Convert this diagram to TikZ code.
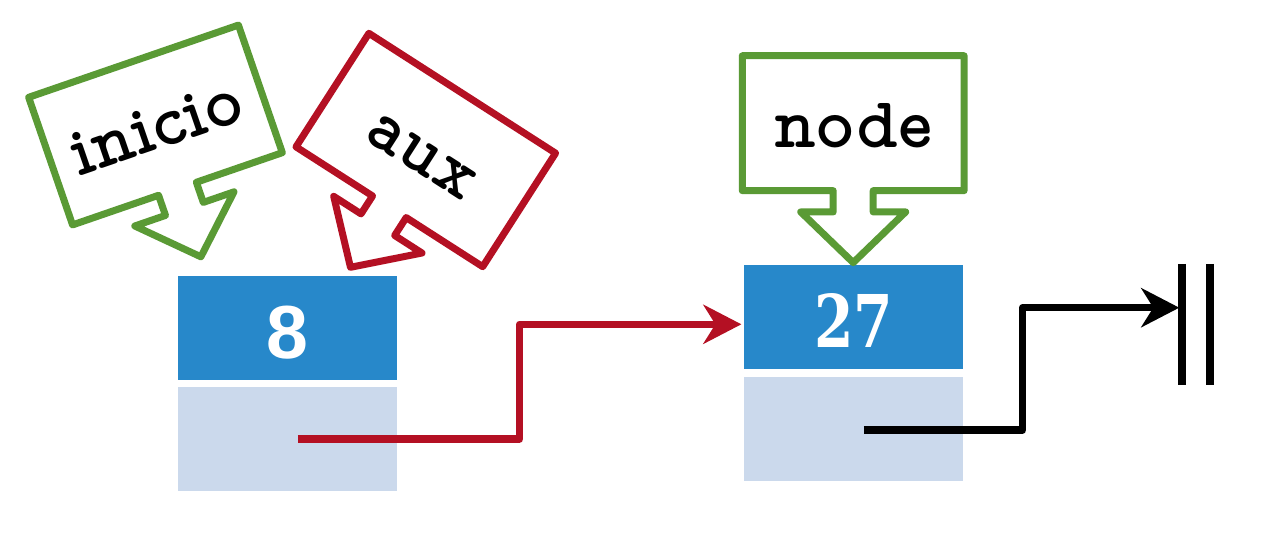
\documentclass[tikz,border=0pt]{standalone}
\usepackage{fontspec}
\usepackage{graphicx}
\usetikzlibrary{arrows.meta}
\newfontfamily\eightfont{Liberation Sans}
\newfontfamily\slabfont{DejaVu Serif}
\definecolor{cgreen}{RGB}{90,154,53}
\definecolor{cred}{RGB}{180,16,35}
\definecolor{cblue}{RGB}{39,136,202}
\definecolor{clight}{RGB}{203,217,236}
\tikzset{
  calloutline/.style={line width=0.07cm, line join=round, fill=white},
  calltext/.style={font=\fontfamily{lmvtt}\bfseries\fontsize{20.5}{25}\selectfont, inner sep=0pt, text=black},
  databox/.style={fill=cblue, draw=none, minimum width=2.19cm, minimum height=1.04cm, inner sep=0pt},
  linkbox/.style={fill=clight, draw=none, minimum width=2.19cm, minimum height=1.04cm, inner sep=0pt},
  link/.style={line width=0.073cm, line join=round, -{Stealth[length=0.38cm,width=0.39cm,inset=0.12cm]}},
  nullbar/.style={line width=0.073cm},
  numtext/.style={text=white, inner sep=0pt, anchor=base}
}
\newcommand{\mycallout}[6]{%
  \begin{scope}[shift={(#1,#2)}, rotate=#3, x=0.01cm, y=0.01cm]
    \draw[calloutline, draw=#4] (-111,67.5) -- (111,67.5) -- (111,-67.5) -- (20,-67.5) -- (20,-88.8)
      -- (52.5,-88.8) -- (0,-139.5) -- (-52.5,-88.8) -- (-20,-88.8) -- (-20,-67.5) -- (-111,-67.5) -- cycle;
    \node[calltext, rotate=#3, anchor=base] (#5) at (0,-24) {#6};
  \end{scope}}
\begin{document}
\begin{tikzpicture}
\useasboundingbox (0,0) rectangle (12.86,-5.34);
% boxes
\node[databox] (d1) at (2.875,-3.28) {};
\node[linkbox] (l1) at (2.875,-4.39) {};
\node[databox] (d2) at (8.535,-3.173) {};
\node[linkbox] (l2) at (8.535,-4.29) {};
\node[numtext, font=\eightfont\bfseries\fontsize{21.4}{26}\selectfont] (v1) at (2.875,-3.585) {8};
\node[numtext, font=\slabfont\bfseries\fontsize{20.7}{26}\selectfont] (v2) at (8.537,-3.475) {\scalebox{0.78}[1]{27}};
% callouts
\mycallout{1.555}{-1.25}{19}{cgreen}{inicio}{inicio}
\mycallout{4.258}{-1.50}{-32.7}{cred}{aux}{aux}
\mycallout{8.532}{-1.232}{0}{cgreen}{nodelbl}{node}
% null terminator
\coordinate (n1a) at (11.82,-2.64);
\coordinate (n1b) at (11.82,-3.85);
\coordinate (n2a) at (12.10,-2.64);
\coordinate (n2b) at (12.10,-3.85);
\draw[nullbar] (n1a) -- (n1b);
\draw[nullbar] (n2a) -- (n2b);
% links
\coordinate (s1) at (2.98,-4.39);
\coordinate (t1) at (7.414,-3.243);
\coordinate (s2) at (8.64,-4.30);
\coordinate (t2) at (11.793,-3.077);
\draw[link, draw=cred] (s1) -- (5.196,-4.39) |- (t1);
\draw[link, draw=black] (s2) -- (10.227,-4.30) |- (t2);
\end{tikzpicture}
\end{document}
